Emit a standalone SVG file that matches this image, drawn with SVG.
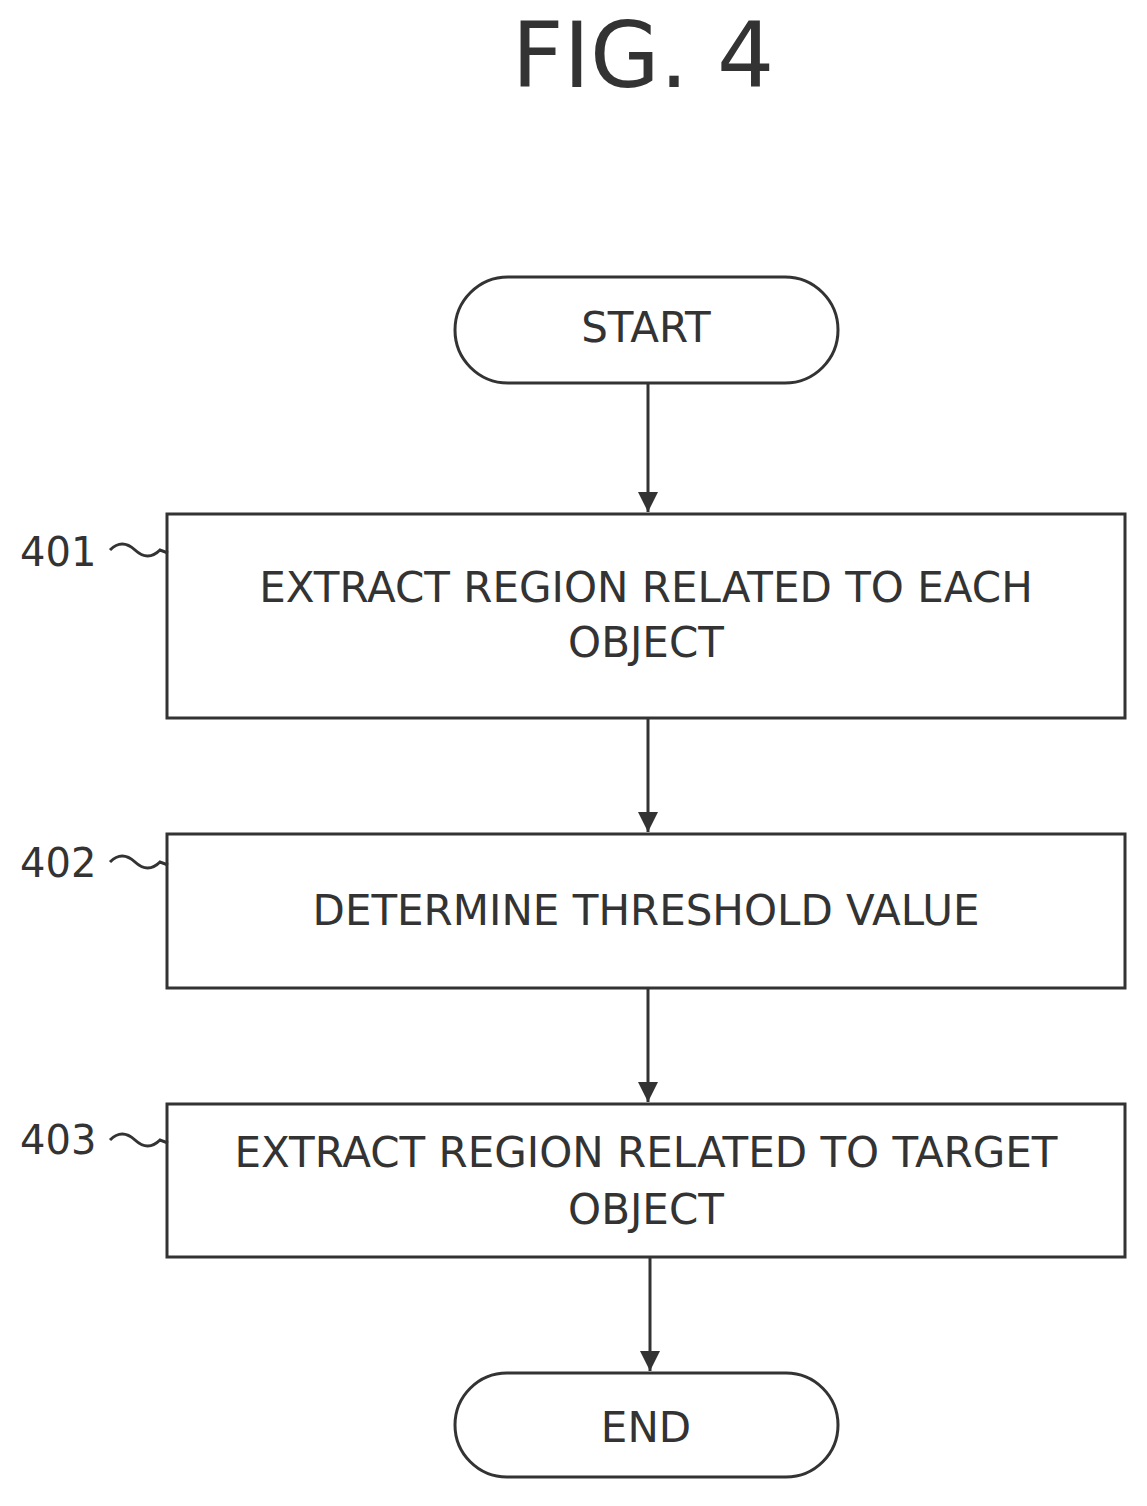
<svg xmlns="http://www.w3.org/2000/svg" width="1147" height="1506" viewBox="0 0 1147 1506">
<style>
.s{fill:#fff;stroke:#333;stroke-width:3}
.t{font-family:"DejaVu Sans",sans-serif;font-size:42px;fill:#333;text-anchor:middle}
.l{font-family:"DejaVu Sans",sans-serif;font-size:40px;fill:#333}
.c{fill:none;stroke:#333;stroke-width:3}
</style>
<defs>
<marker id="b" markerWidth="24" markerHeight="20" refX="20" refY="10" orient="auto" markerUnits="userSpaceOnUse"><path d="M0,0L20,10L0,20z" fill="#333"/></marker></defs>
<text x="643" y="87" style="font-family:'DejaVu Sans',sans-serif;font-size:90px;fill:#333;text-anchor:middle">FIG. 4</text>
<g id="start"><rect class="s" x="455" y="277" width="383" height="106" rx="53"/><text class="t" x="646" y="342">START</text></g>
<g id="n401"><rect class="s" x="167" y="514" width="958" height="204"/><text class="t" x="646" y="602">EXTRACT REGION RELATED TO EACH</text><text class="t" x="646" y="657">OBJECT</text>
<text class="l" x="20" y="566">401</text><path class="c" d="M110,550 q12,-12 25,0 t25,0 l8,3"/></g>
<g id="n402"><rect class="s" x="167" y="834" width="958" height="154"/><text class="t" x="646" y="925">DETERMINE THRESHOLD VALUE</text>
<text class="l" x="20" y="877">402</text><path class="c" d="M110,862 q12,-12 25,0 t25,0 l8,3"/></g>
<g id="n403"><rect class="s" x="167" y="1104" width="958" height="153"/><text class="t" x="646" y="1167">EXTRACT REGION RELATED TO TARGET</text><text class="t" x="646" y="1224">OBJECT</text>
<text class="l" x="20" y="1154">403</text><path class="c" d="M110,1140 q12,-12 25,0 t25,0 l8,3"/></g>
<g id="end"><rect class="s" x="455" y="1373" width="383" height="104" rx="52"/><text class="t" x="646" y="1442">END</text></g>
<g id="connectors" class="c">
<path d="M648,383V512" marker-end="url(#b)"/>
<path d="M648,718V832" marker-end="url(#b)"/>
<path d="M648,988V1102" marker-end="url(#b)"/>
<path d="M650,1257V1371" marker-end="url(#b)"/>
</g>
</svg>
